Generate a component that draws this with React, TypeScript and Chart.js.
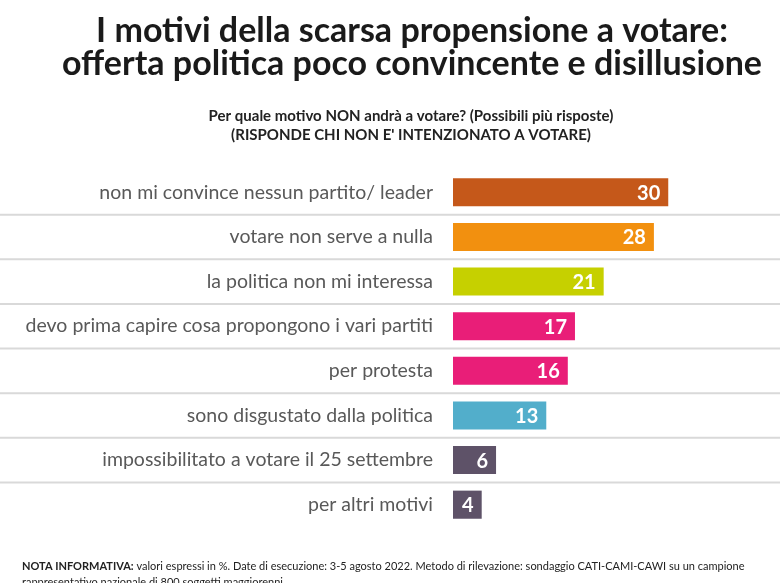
import React, { useEffect, useRef } from "react";
import { Chart, registerables } from "chart.js";

Chart.register(...registerables);

const categories = [
  "non mi convince nessun partito/ leader",
  "votare non serve a nulla",
  "la politica non mi interessa",
  "devo prima capire cosa propongono i vari partiti",
  "per protesta",
  "sono disgustato dalla politica",
  "impossibilitato a votare il 25 settembre",
  "per altri motivi",
];
const values = [30, 28, 21, 17, 16, 13, 6, 4];
const barColors = [
  "#C5581A",
  "#F2900F",
  "#C6D000",
  "#E91E78",
  "#E91E78",
  "#52AECB",
  "#5E5268",
  "#5E5268",
];
const titleLines = [
  "I motivi della scarsa propensione a votare:",
  "offerta politica poco convincente e disillusione",
];
const subtitleLines = [
  "Per quale motivo NON andrà a votare? (Possibili più risposte)",
  "(RISPONDE CHI NON E' INTENZIONATO A VOTARE)",
];
const noteBold = "NOTA INFORMATIVA:";
const noteRest =
  " valori espressi in %. Date di esecuzione: 3-5 agosto 2022. Metodo di rilevazione: sondaggio CATI-CAMI-CAWI su un campione";
const noteLine2 = "rappresentativo nazionale di 800 soggetti maggiorenni";

const FONT = "Lato, 'Open Sans', sans-serif";

const textPlugin = {
  id: "texts",
  afterDraw(chart: any) {
    const ctx = chart.ctx;
    ctx.save();
    ctx.textAlign = "center";
    ctx.textBaseline = "middle";
    ctx.fillStyle = "#1a1a1a";
    ctx.font = `bold 34px ${FONT}`;
    ctx.fillText(titleLines[0], 412, 31);
    ctx.fillText(titleLines[1], 412, 64);
    ctx.font = `bold 15px ${FONT}`;
    ctx.fillStyle = "#222";
    ctx.fillText(subtitleLines[0], 411, 116);
    ctx.fillText(subtitleLines[1], 411, 135);
    ctx.textAlign = "left";
    ctx.font = `bold 11px ${FONT}`;
    ctx.fillText(noteBold, 22, 566);
    const w = ctx.measureText(noteBold).width;
    ctx.font = `11px ${FONT}`;
    ctx.fillText(noteRest, 22 + w, 566);
    ctx.fillText(noteLine2, 22, 582);
    ctx.restore();
  },
};

const separatorPlugin = {
  id: "separators",
  beforeDatasetsDraw(chart: any) {
    const ctx = chart.ctx;
    const y = chart.scales.y;
    ctx.save();
    ctx.strokeStyle = "#d9d9d9";
    ctx.lineWidth = 2;
    for (let i = 0; i < categories.length - 1; i++) {
      const py = (y.getPixelForValue(i) + y.getPixelForValue(i + 1)) / 2;
      ctx.beginPath();
      ctx.moveTo(0, py);
      ctx.lineTo(chart.width, py);
      ctx.stroke();
    }
    ctx.restore();
  },
};

const valuePlugin = {
  id: "values",
  afterDatasetsDraw(chart: any) {
    const ctx = chart.ctx;
    const meta = chart.getDatasetMeta(0);
    ctx.save();
    ctx.fillStyle = "#ffffff";
    ctx.font = `bold 20px ${FONT}`;
    ctx.textAlign = "right";
    ctx.textBaseline = "middle";
    meta.data.forEach((el: any, i: number) => {
      ctx.fillText(String(values[i]), el.x - 8, el.y + 1);
    });
    ctx.restore();
  },
};

export default function App() {
  const ref = useRef<HTMLCanvasElement | null>(null);
  useEffect(() => {
    document.body.style.margin = "0";
    const chart = new Chart(ref.current as HTMLCanvasElement, {
      type: "bar",
      data: {
        labels: categories,
        datasets: [
          {
            data: values,
            backgroundColor: barColors,
            borderWidth: 0,
            categoryPercentage: 1,
            barPercentage: 0.63,
          },
        ],
      },
      options: {
        indexAxis: "y",
        animation: false,
        responsive: false,
        layout: { padding: { top: 170, bottom: 56, left: 0, right: 40 } },
        plugins: {
          legend: { display: false },
          tooltip: { enabled: false },
          title: { display: false },
        },
        scales: {
          x: { display: false, min: 0, max: 40 },
          y: {
            grid: { display: false },
            border: { display: false },
            ticks: {
              color: "#595959",
              font: { family: FONT, size: 19.5 },
              padding: 12,
            },
            afterFit(scale: any) {
              scale.width = 453;
            },
          },
        },
      },
      plugins: [separatorPlugin, valuePlugin, textPlugin],
    } as any);
    return () => chart.destroy();
  }, []);
  return <canvas ref={ref} width={780} height={583} />;
}
